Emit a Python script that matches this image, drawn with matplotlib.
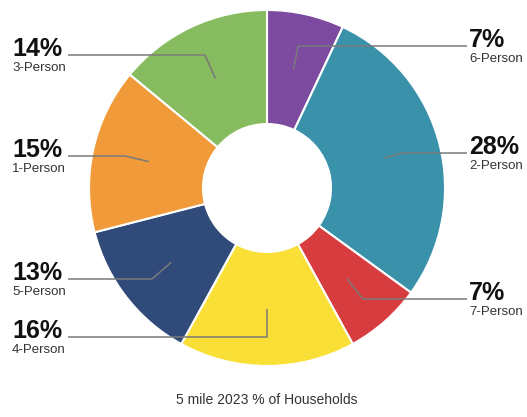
import numpy as np
import matplotlib
matplotlib.use('Agg')
import matplotlib.pyplot as plt

# wedge order: clockwise from 12 o'clock
labels = ['6-Person', '2-Person', '7-Person', '4-Person', '5-Person', '1-Person', '3-Person']
values = [7, 28, 7, 16, 13, 15, 14]
colors = ['#7C4B9F', '#3A91AA', '#D73C3F', '#F9DF36', '#304A79', '#F09A3A', '#87BB5F']
title = '5 mile 2023 % of Households'

plt.rcParams['font.family'] = ['Liberation Sans', 'DejaVu Sans']

W, H = 527, 417
fig = plt.figure(figsize=(W / 100, H / 100), dpi=100)
ax = fig.add_axes([0, 0, 1, 1])
ax.set_xlim(0, W)
ax.set_ylim(0, H)
ax.axis('off')

cx, cy = 267, H - 188
r_out, r_in = 178, 64

wedges, _ = ax.pie(values, colors=colors, startangle=90, counterclock=False,
                   center=(cx, cy), radius=r_out, frame=True,
                   wedgeprops=dict(width=r_out - r_in, edgecolor='white', linewidth=1.5))
ax.set_xlim(0, W)
ax.set_ylim(0, H)
ax.axis('off')

# label layout (pixel rows from top, elbow x, side)
layout = {
    '6-Person': (46, 298, 'right'),
    '2-Person': (153, 403, 'right'),
    '7-Person': (299, 363, 'right'),
    '4-Person': (337, 267, 'left'),
    '5-Person': (279, 152, 'left'),
    '1-Person': (156, 125, 'left'),
    '3-Person': (55, 205, 'left'),
}

r_mid = (r_out + r_in) / 2
for w, lab, v in zip(wedges, labels, values):
    ang = np.deg2rad((w.theta1 + w.theta2) / 2)
    ax_, ay_ = cx + r_mid * np.cos(ang), cy + r_mid * np.sin(ang)
    row, elbow_x, side = layout[lab]
    ly = H - row
    end_x = 68 if side == 'left' else 467
    ax.plot([ax_, elbow_x, end_x], [ay_, ly, ly], color='#7a7a7a', lw=1.1,
            solid_capstyle='butt', zorder=3)
    tx = 12 if side == 'left' else 469
    ax.text(tx, ly - 1, f'{v}%', fontsize=18, fontweight='bold', color='#111111',
            ha='left', va='baseline')
    ax.text(tx, ly - 16, lab, fontsize=9.5, color='#333333', ha='left', va='baseline')

ax.text(cx, H - 404, title, fontsize=10, color='#333333', ha='center', va='baseline')

fig.savefig('out.png', dpi=100)
